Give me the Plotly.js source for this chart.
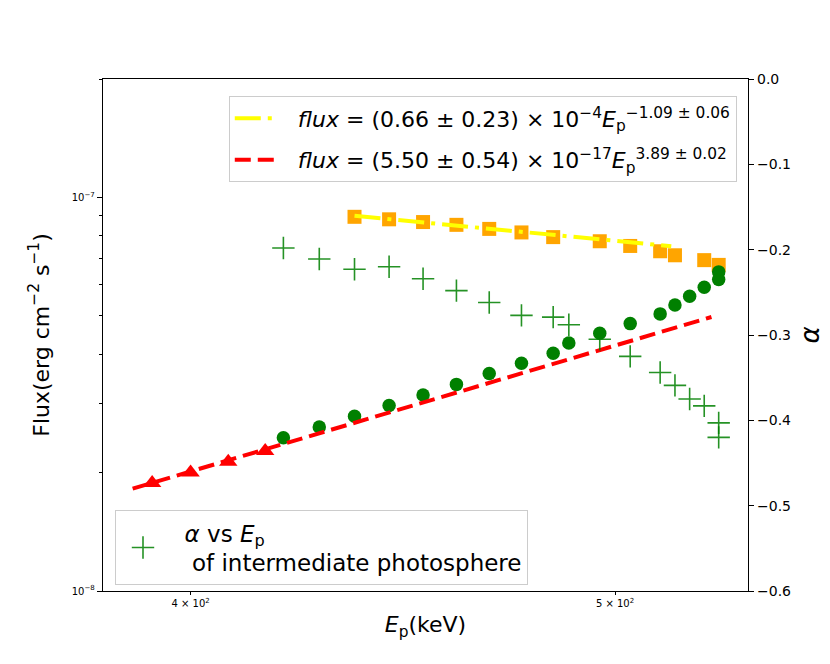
<!DOCTYPE html>
<html>
<head>
<meta charset="utf-8">
<script src="https://cdn.plot.ly/plotly-3.0.1.min.js"></script>
<style>html,body{margin:0;padding:0;background:#fff;}#chart{width:830px;height:664px;}</style>
</head>
<body>
<div id="chart"></div>
<script>
// Data
const E_sq = [436, 444, 452, 460, 468, 476, 484, 496, 504, 512, 516, 524, 528];
const F_sq = [8.93e-8, 8.80e-8, 8.66e-8, 8.52e-8, 8.32e-8, 8.15e-8, 7.93e-8, 7.74e-8, 7.53e-8, 7.30e-8, 7.13e-8, 6.93e-8, 6.74e-8];

const E_circ = [420, 428, 436, 444, 452, 460, 468, 476, 484, 488, 496, 504, 512, 516, 520, 524, 528, 528];
const F_circ = [2.45e-8, 2.61e-8, 2.78e-8, 2.96e-8, 3.15e-8, 3.35e-8, 3.57e-8, 3.79e-8, 4.02e-8, 4.27e-8, 4.52e-8, 4.78e-8, 5.06e-8, 5.33e-8, 5.61e-8, 5.91e-8, 6.19e-8, 6.47e-8];

const E_tri = [392, 400, 408, 416];
const F_tri = [1.88e-8, 2.00e-8, 2.13e-8, 2.27e-8];

const E_alpha = [420, 428, 436, 444, 452, 460, 468, 476, 484, 488, 496, 504, 512, 516, 520, 524, 528, 528];
const alpha = [-0.198, -0.211, -0.223, -0.220, -0.234, -0.248, -0.262, -0.277, -0.279, -0.288, -0.305, -0.325, -0.344, -0.359, -0.375, -0.383, -0.403, -0.420];

const E_fit1 = [436, 515];
const F_fit1 = [8.98e-8, 7.52e-8];
const E_fit2 = [388, 526];
const F_fit2 = [1.82e-8, 4.97e-8];

const xTickVals = [400, 500];
const xTickText = ['4 × 10<sup>2</sup>', '5 × 10<sup>2</sup>'];
const yTickVals = [1e-8, 1e-7];
const yTickText = ['10<sup>−8</sup>', '10<sup>−7</sup>'];
const yMinorVals = [2e-8, 3e-8, 4e-8, 5e-8, 6e-8, 7e-8, 8e-8, 9e-8, 2e-7];

const label1 = '&nbsp;&nbsp;<i>flux</i> = (0.66 ± 0.23) × 10<sup>−4</sup><i>E</i><sub>p</sub><sup>−1.09 ± 0.06</sup>';
const label2 = '&nbsp;&nbsp;<i>flux</i> = (5.50 ± 0.54) × 10<sup>−17</sup><i>E</i><sub>p</sub><sup>3.89 ± 0.02</sup>';
const label3 = '&nbsp;&nbsp;<i>α</i> vs <i>E</i><sub>p</sub><br>&nbsp;&nbsp;&nbsp;of intermediate photosphere';

const FONT = 'DejaVu Sans, Liberation Sans, sans-serif';

const traces = [
  {x: E_sq, y: F_sq, type: 'scatter', mode: 'markers', showlegend: false,
   marker: {symbol: 'square', size: 14, color: '#FFA500'}},
  {x: E_circ, y: F_circ, type: 'scatter', mode: 'markers', showlegend: false,
   marker: {symbol: 'circle', size: 13.5, color: '#008000'}},
  {x: E_tri, y: F_tri, type: 'scatter', mode: 'markers', showlegend: false,
   marker: {symbol: 'triangle-up', size: 16, color: '#FF0000'}},
  {x: E_fit1, y: F_fit1, type: 'scatter', mode: 'lines', name: label1, legend: 'legend', legendgroup: 'a',
   line: {color: '#FFFF00', width: 4, dash: '26px,7px,4px,7px'}},
  {x: E_fit2, y: F_fit2, type: 'scatter', mode: 'lines', name: label2, legend: 'legend', legendgroup: 'b',
   line: {color: '#FF0000', width: 4, dash: '16px,7px'}},
  {x: E_alpha, y: alpha, type: 'scatter', mode: 'markers', name: label3, yaxis: 'y2', legend: 'legend2',
   marker: {symbol: 'cross-thin', size: 16, color: '#008000', opacity: 0.85,
            line: {color: '#008000', width: 1.6}}}
];

const layout = {
  width: 830, height: 664,
  margin: {l: 103, r: 82, t: 79, b: 73},
  paper_bgcolor: '#fff', plot_bgcolor: '#fff',
  font: {family: FONT, color: '#000'},
  xaxis: {
    type: 'log', range: [Math.log10(382), Math.log10(536.2)],
    tickmode: 'array', tickvals: xTickVals, ticktext: xTickText,
    ticks: 'outside', ticklen: 3, tickwidth: 1, tickcolor: '#000',
    tickfont: {size: 10, family: FONT},
    showgrid: false, zeroline: false,
    showline: true, linecolor: '#000', linewidth: 1.2, mirror: true,
    title: {text: '<i>E</i><sub>p</sub>(keV)', font: {size: 22, family: FONT}, standoff: 8}
  },
  yaxis: {
    type: 'log', range: [-8, Math.log10(2e-7)],
    tickmode: 'array', tickvals: yTickVals, ticktext: yTickText,
    ticks: 'outside', ticklen: 5, tickwidth: 1, tickcolor: '#000',
    tickfont: {size: 10, family: FONT},
    minor: {tickmode: 'array', tickvals: yMinorVals, ticks: 'outside', ticklen: 3, tickwidth: 1, tickcolor: '#000', showgrid: false},
    showgrid: false, zeroline: false,
    showline: true, linecolor: '#000', linewidth: 1.2,
    title: {text: 'Flux(erg cm<sup>−2</sup> s<sup>−1</sup>)', font: {size: 22, family: FONT}, standoff: 16}
  },
  yaxis2: {
    overlaying: 'y', side: 'right', range: [-0.6, 0],
    tickmode: 'linear', tick0: -0.6, dtick: 0.1, tickformat: '.1f',
    ticks: 'outside', ticklen: 5, tickwidth: 1, tickcolor: '#000',
    tickfont: {size: 14, family: FONT},
    showgrid: false, zeroline: false,
    showline: true, linecolor: '#000', linewidth: 1.2,
    title: {text: '<i>α</i>', font: {size: 26, family: FONT}, standoff: 10}
  },
  legend: {
    x: 0.195, y: 0.966, xanchor: 'left', yanchor: 'top',
    bgcolor: 'rgba(255,255,255,0.8)', bordercolor: '#cccccc', borderwidth: 1,
    font: {size: 22, family: FONT}, itemwidth: 44, tracegroupgap: 10
  },
  legend2: {
    x: 0.0186, y: 0.158, xanchor: 'left', yanchor: 'top',
    bgcolor: 'rgba(255,255,255,0.8)', bordercolor: '#cccccc', borderwidth: 1,
    font: {size: 23, family: FONT}, itemwidth: 44
  }
};

Plotly.newPlot('chart', traces, layout, {displayModeBar: false, staticPlot: true});
</script>
</body>
</html>
